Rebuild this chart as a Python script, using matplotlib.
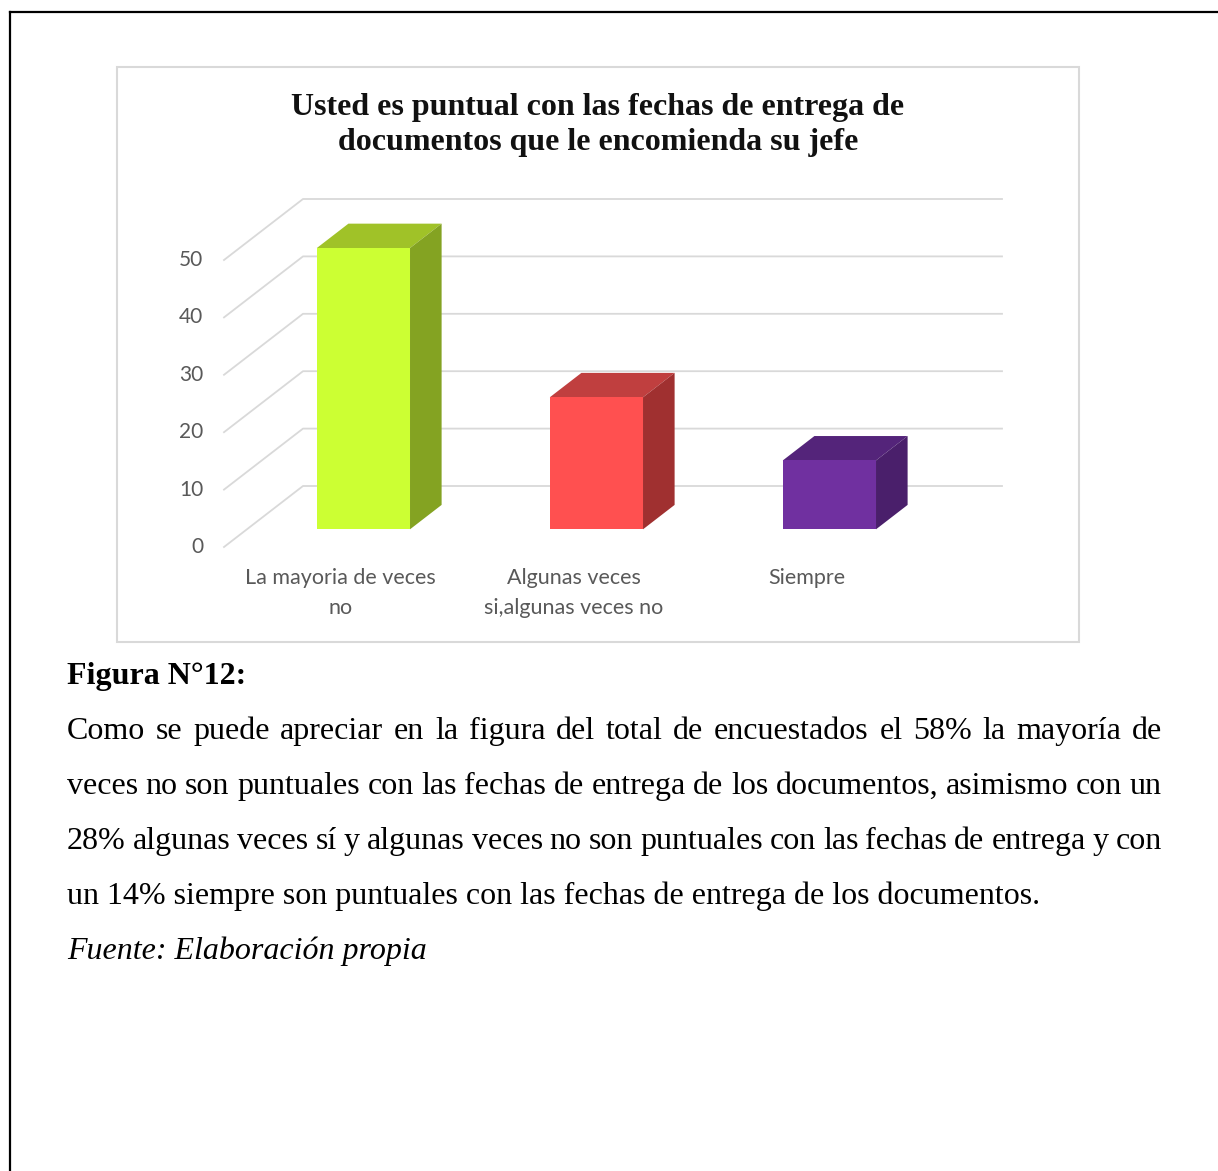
import matplotlib
matplotlib.use("Agg")
import matplotlib.pyplot as plt
from matplotlib.patches import Polygon, Rectangle
from matplotlib.lines import Line2D

W, H = 1218, 1171
DPI = 100

# chart data
categories = ["La mayoria de veces\nno", "Algunas veces\nsi,algunas veces no", "Siempre"]
values = [49, 23, 12]
yticks = [0, 10, 20, 30, 40, 50]
front_colors = ["#ccff33", "#ff5050", "#7030a0"]
top_colors = ["#a0c228", "#c03f3f", "#54247a"]
side_colors = ["#84a322", "#a03030", "#4a1f6b"]

title = "Usted es puntual con las fechas de entrega de\ndocumentos que le encomienda su jefe"
fig_label = "Figura N°12:"
body_lines = [
    "Como se puede apreciar en la figura del total de encuestados el 58% la mayoría de",
    "veces no son puntuales con las fechas de entrega de los documentos, asimismo con un",
    "28% algunas veces sí y algunas veces no son puntuales con las fechas de entrega y con",
    "un 14% siempre son puntuales con las fechas de entrega de los documentos.",
]
source = "Fuente: Elaboración propia"

GRID = "#d9d9d9"
TICK = "#595959"
SANS = "Lato"
SERIF = "Liberation Serif"


def fx(x):
    return x / W


def fy(y):
    return 1 - y / H


fig = plt.figure(figsize=(W / DPI, H / DPI), dpi=DPI)
fig.patch.set_facecolor("white")

# page border (clipped at right/bottom)
fig.add_artist(Line2D([fx(10), fx(10)], [fy(12), fy(H)], color="black", lw=1.6))
fig.add_artist(Line2D([fx(10), fx(W)], [fy(12), fy(12)], color="black", lw=1.6))

# chart frame
fig.add_artist(Rectangle((fx(117), fy(642)), fx(1079 - 117), (642 - 67) / H,
                         fill=False, edgecolor=GRID, lw=1.5))

fig.text(fx(598), fy(125), title, ha="center", va="center", fontsize=23,
         fontweight="bold", family=SERIF, linespacing=1.26, color="#111111")

# 3d-like column chart drawn on a flat axes
DX = 79 / 233          # depth offset in category units
DY = 61 / (287 / 50)   # depth offset in value units
ax = fig.add_axes([fx(224), fy(547), fx(1002 - 224), (547 - 199) / H])
ax.set_xlim(-0.5, 2.5 + DX)
ax.set_ylim(0, 50 + DY)
ax.axis("off")

for v in yticks:
    ax.plot([-0.5, -0.5 + DX, 2.5 + DX], [v, v + DY, v + DY], color=GRID, lw=1.3,
            zorder=1, clip_on=False)
    ax.annotate(str(v), xy=(-0.5, v), xytext=(-15, 0), textcoords="offset points",
                ha="right", va="center", fontsize=15, color=TICK, family=SANS)

f0, f1, half = 0.29, 0.69, 0.2
for i, v in enumerate(values):
    x0 = i - half + f0 * DX
    x1 = i + half + f0 * DX
    yb = f0 * DY
    yt = v + f0 * DY
    bx = (f1 - f0) * DX
    by = (f1 - f0) * DY
    ax.add_patch(Polygon([(x0, yt), (x1, yt), (x1 + bx, yt + by), (x0 + bx, yt + by)],
                         closed=True, facecolor=top_colors[i], edgecolor="none", zorder=3))
    ax.add_patch(Polygon([(x1, yb), (x1 + bx, yb + by), (x1 + bx, yt + by), (x1, yt)],
                         closed=True, facecolor=side_colors[i], edgecolor="none", zorder=3))
    ax.add_patch(Polygon([(x0, yb), (x1, yb), (x1, yt), (x0, yt)],
                         closed=True, facecolor=front_colors[i], edgecolor="none", zorder=4))
    ax.annotate(categories[i], xy=(i, 0), xytext=(0, -15), textcoords="offset points",
                ha="center", va="top", fontsize=15.5, color=TICK, family=SANS,
                linespacing=1.62)

# caption text below the chart
BODY = 23
LEFT, RIGHT = 67, 1162
fig.text(fx(LEFT), fy(684), fig_label, fontsize=BODY, fontweight="bold",
         family=SERIF, va="baseline")

renderer = fig.canvas.get_renderer()


def width_px(word):
    t = fig.text(0, 0, word, fontsize=BODY, family=SERIF)
    w = t.get_window_extent(renderer).width
    t.remove()
    return w


for k, line in enumerate(body_lines):
    base = 739 + 55 * k
    if k == len(body_lines) - 1:
        fig.text(fx(LEFT), fy(base), line, fontsize=BODY, family=SERIF, va="baseline")
        continue
    words = line.split()
    widths = [width_px(w) for w in words]
    gap = (RIGHT - LEFT - sum(widths)) / (len(words) - 1)
    x = LEFT
    for w, wd in zip(words, widths):
        fig.text(fx(x), fy(base), w, fontsize=BODY, family=SERIF, va="baseline")
        x += wd + gap

fig.text(fx(LEFT), fy(959), source, fontsize=BODY, family=SERIF, style="italic",
         va="baseline")

fig.savefig("out.png", dpi=DPI, facecolor="white")
